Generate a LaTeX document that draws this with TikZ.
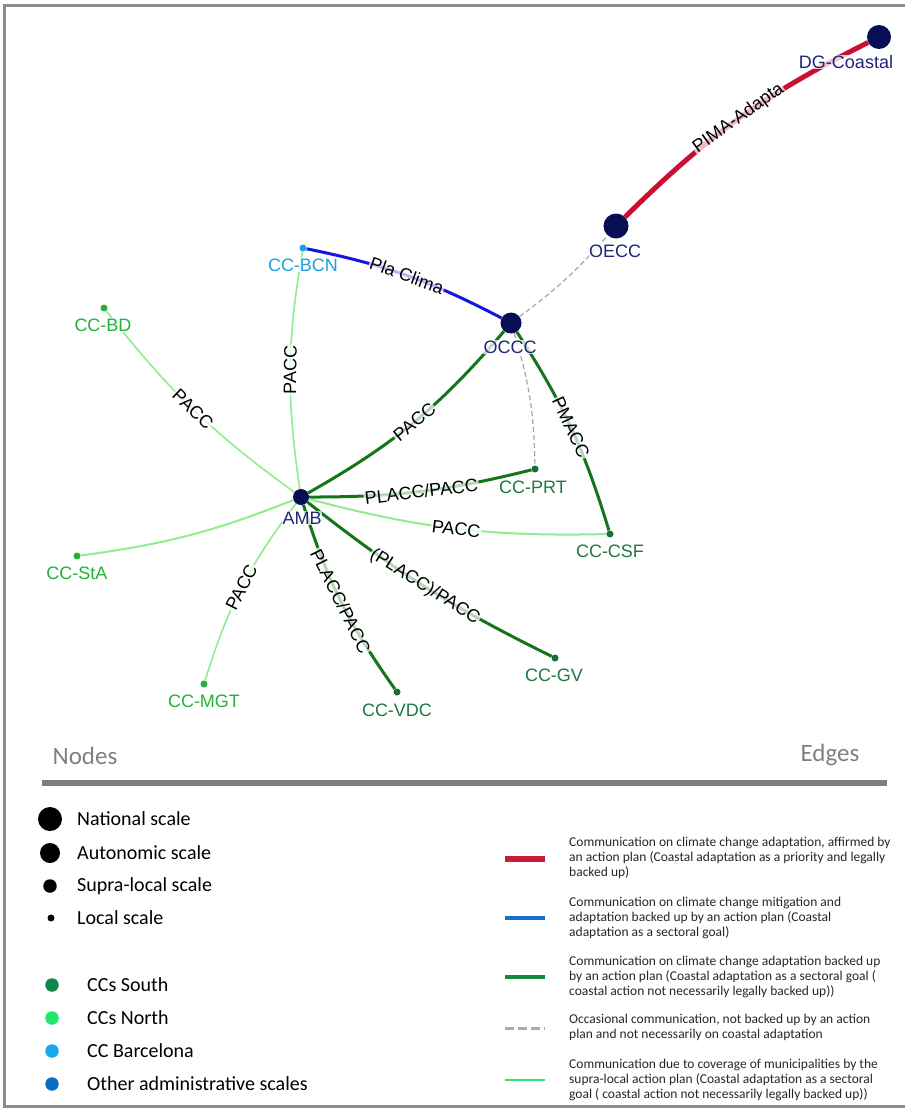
\documentclass[tikz,border=0pt]{standalone}
\usepackage{fontspec}
\setmainfont{Liberation Sans}
\newfontfamily\legfont{Carlito}
\usetikzlibrary{backgrounds}
\definecolor{navy}{RGB}{8,14,84}
\definecolor{navytxt}{RGB}{32,38,118}
\definecolor{lblue}{RGB}{26,160,228}
\definecolor{ngreen}{RGB}{34,178,60}
\definecolor{sgreen}{RGB}{22,110,58}
\definecolor{sgreentxt}{RGB}{30,120,66}
\definecolor{crimsonE}{RGB}{200,16,52}
\definecolor{blueE}{RGB}{22,22,228}
\definecolor{dgreenE}{RGB}{20,118,24}
\definecolor{lgreenE}{RGB}{144,236,144}
\definecolor{grayE}{RGB}{165,165,165}
\definecolor{frameC}{RGB}{140,140,140}
\definecolor{legTitle}{RGB}{128,128,128}
\definecolor{legSouth}{RGB}{16,135,74}
\definecolor{legNorth}{RGB}{30,232,106}
\definecolor{legBcn}{RGB}{23,169,236}
\definecolor{legOther}{RGB}{11,108,195}
\definecolor{legRed}{RGB}{200,30,60}
\definecolor{legBlue}{RGB}{26,110,200}
\definecolor{legGreen}{RGB}{17,138,63}
\definecolor{legGray}{RGB}{170,170,170}
\definecolor{legLgreen}{RGB}{45,232,107}
\definecolor{legText}{RGB}{38,38,38}
\begin{document}
\begin{tikzpicture}[x=1pt,y=1pt,
  bigdot/.style={circle,inner sep=0pt,minimum size=#1,fill=navy},
  smalldot/.style={circle,inner sep=0pt,minimum size=7pt,fill=#1},
  nlab/.style={inner sep=0.5pt,fill=white,fill opacity=0.75,text opacity=1,font=\fontsize{18}{18}\selectfont,text=#1},
  elab/.style={midway,sloped,inner sep=1pt,fill=white,fill opacity=0.7,text opacity=1,font=\fontsize{18}{18}\selectfont,text=black},
  redE/.style={draw=crimsonE,line width=5pt},
  bluE/.style={draw=blueE,line width=3pt},
  dgE/.style={draw=dgreenE,line width=3pt},
  lgE/.style={draw=lgreenE,line width=1.6pt},
  grayD/.style={draw=grayE,line width=1.2pt,dash pattern=on 5pt off 3pt},
  legtitle/.style={inner sep=0pt,font=\legfont\fontsize{25}{25}\selectfont,text=legTitle},
  legitem/.style={anchor=west,inner sep=0pt,font=\legfont\fontsize{20}{20}\selectfont,text=black},
  legblack/.style={circle,inner sep=0pt,minimum size=#1,fill=black},
  legdot/.style={circle,inner sep=0pt,minimum size=13.5pt,fill=#1},
  legtext/.style={anchor=west,inner sep=0pt,align=left,font=\legfont\fontsize{13.5}{15}\selectfont,text=legText},
]
\useasboundingbox (0,0) rectangle (905,-1108);
\draw[frameC,line width=3pt] (905,-6) -- (4,-6) -- (4,-1106) -- (905,-1106);

% graph nodes
\node[bigdot=24pt] (dg) at (879,-37) {};
\node[bigdot=25pt] (oecc) at (616,-226) {};
\node[bigdot=21pt] (occc) at (511,-323) {};
\node[bigdot=16pt] (amb) at (301,-497) {};
\node[smalldot=lblue] (bcn) at (303,-248) {};
\node[smalldot=ngreen] (bd) at (104,-308) {};
\node[smalldot=sgreen] (prt) at (535,-469) {};
\node[smalldot=sgreen] (csf) at (610,-534) {};
\node[smalldot=ngreen] (sta) at (77,-556) {};
\node[smalldot=ngreen] (mgt) at (204,-684) {};
\node[smalldot=sgreen] (vdc) at (397,-692) {};
\node[smalldot=sgreen] (gv) at (555,-658) {};

% node labels
\node[nlab=navytxt] (dgL) at (846,-62) {DG-Coastal};
\node[nlab=navytxt] (oeccL) at (615,-251) {OECC};
\node[nlab=navytxt] (occcL) at (510,-347) {OCCC};
\node[nlab=navytxt] (ambL) at (302,-518) {AMB};
\node[nlab=lblue] (bcnL) at (303,-265) {CC-BCN};
\node[nlab=ngreen] (bdL) at (103,-325) {CC-BD};
\node[nlab=sgreentxt] (prtL) at (533,-487) {CC-PRT};
\node[nlab=sgreentxt] (csfL) at (610,-551) {CC-CSF};
\node[nlab=ngreen] (staL) at (77,-573) {CC-StA};
\node[nlab=ngreen] (mgtL) at (204,-701) {CC-MGT};
\node[nlab=sgreentxt] (vdcL) at (397,-710) {CC-VDC};
\node[nlab=sgreentxt] (gvL) at (554,-675) {CC-GV};

% edges
\begin{pgfonlayer}{background}
\draw[redE] (oecc) to[bend left=9] node[elab]{PIMA-Adapta} (dg);
\draw[grayD] (occc) to[bend right=6] (oecc);
\draw[bluE] (bcn) to[bend left=8] node[elab]{Pla Clima} (occc);
\draw[lgE] (amb) to[bend left=9] node[elab]{PACC} (bcn);
\draw[lgE] (bd) to[bend right=8] node[elab]{PACC} (amb);
\draw[dgE] (amb) to[bend right=10] node[elab]{PACC} (occc);
\draw[grayD] (occc) to[bend left=8] (prt);
\draw[dgE] (occc) to[bend left=8] node[elab]{PMACC} (csf);
\draw[dgE] (amb) to[bend right=7] node[elab]{PLACC/PACC} (prt);
\draw[lgE,line width=2pt] (amb) to[bend right=8] node[elab]{PACC} (csf);
\draw[lgE,line width=2pt] (amb) to[bend left=7] (sta);
\draw[lgE] (amb) to[bend right=10] node[elab]{PACC} (mgt);
\draw[dgE] (amb) to[bend right=9] node[elab]{PLACC/PACC} (vdc);
\draw[dgE] (amb) to[bend right=6] node[elab]{(PLACC)/PACC} (gv);
\end{pgfonlayer}

% legend
\node[legtitle] (nodesT) at (85,-756) {Nodes};
\node[legtitle] (edgesT) at (830,-755) {Edges};
\draw[frameC!90!black,line width=6pt] (42,-783) -- (887,-783);

\node[legblack=24pt] (ln1) at (50,-819) {};
\node[legblack=20pt] (ln2) at (50,-853) {};
\node[legblack=13.5pt] (ln3) at (50,-886) {};
\node[legblack=7pt] (ln4) at (51,-918) {};
\node[legitem] (ln1T) at (77,-819) {National scale};
\node[legitem] (ln2T) at (77,-853) {Autonomic scale};
\node[legitem] (ln3T) at (77,-886) {Supra-local scale};
\node[legitem] (ln4T) at (77,-918) {Local scale};

\node[legdot=legSouth] (lc1) at (52,-985) {};
\node[legdot=legNorth] (lc2) at (52,-1018) {};
\node[legdot=legBcn] (lc3) at (52,-1051) {};
\node[legdot=legOther] (lc4) at (52,-1084) {};
\node[legitem] (lc1T) at (87,-985) {CCs South};
\node[legitem] (lc2T) at (87,-1018) {CCs North};
\node[legitem] (lc3T) at (87,-1051) {CC Barcelona};
\node[legitem] (lc4T) at (87,-1084) {Other administrative scales};

\draw[legRed,line width=6.5pt] (505,-859) -- (545,-859);
\draw[legBlue,line width=4.5pt] (505,-918) -- (545,-918);
\draw[legGreen,line width=4.5pt] (505,-977) -- (545,-977);
\draw[legGray,line width=3pt,dash pattern=on 9pt off 4pt] (505,-1028) -- (545,-1028);
\draw[legLgreen,line width=2.5pt] (505,-1080) -- (545,-1080);

\node[legtext] (le1) at (569,-858) {Communication on climate change adaptation, affirmed by\\an action plan (Coastal adaptation as a priority and legally\\backed up)};
\node[legtext] (le2) at (569,-918) {Communication on climate change mitigation and\\adaptation backed up by an action plan (Coastal\\adaptation as a sectoral goal)};
\node[legtext] (le3) at (569,-977) {Communication on climate change adaptation backed up\\by an action plan (Coastal adaptation as a sectoral goal (\\coastal action not necessarily legally backed up))};
\node[legtext] (le4) at (569,-1027.5) {Occasional communication, not backed up by an action\\plan and not necessarily on coastal adaptation};
\node[legtext] (le5) at (569,-1080) {Communication due to coverage of municipalities by the\\supra-local action plan (Coastal adaptation as a sectoral\\goal ( coastal action not necessarily legally backed up))};
\end{tikzpicture}
\end{document}
